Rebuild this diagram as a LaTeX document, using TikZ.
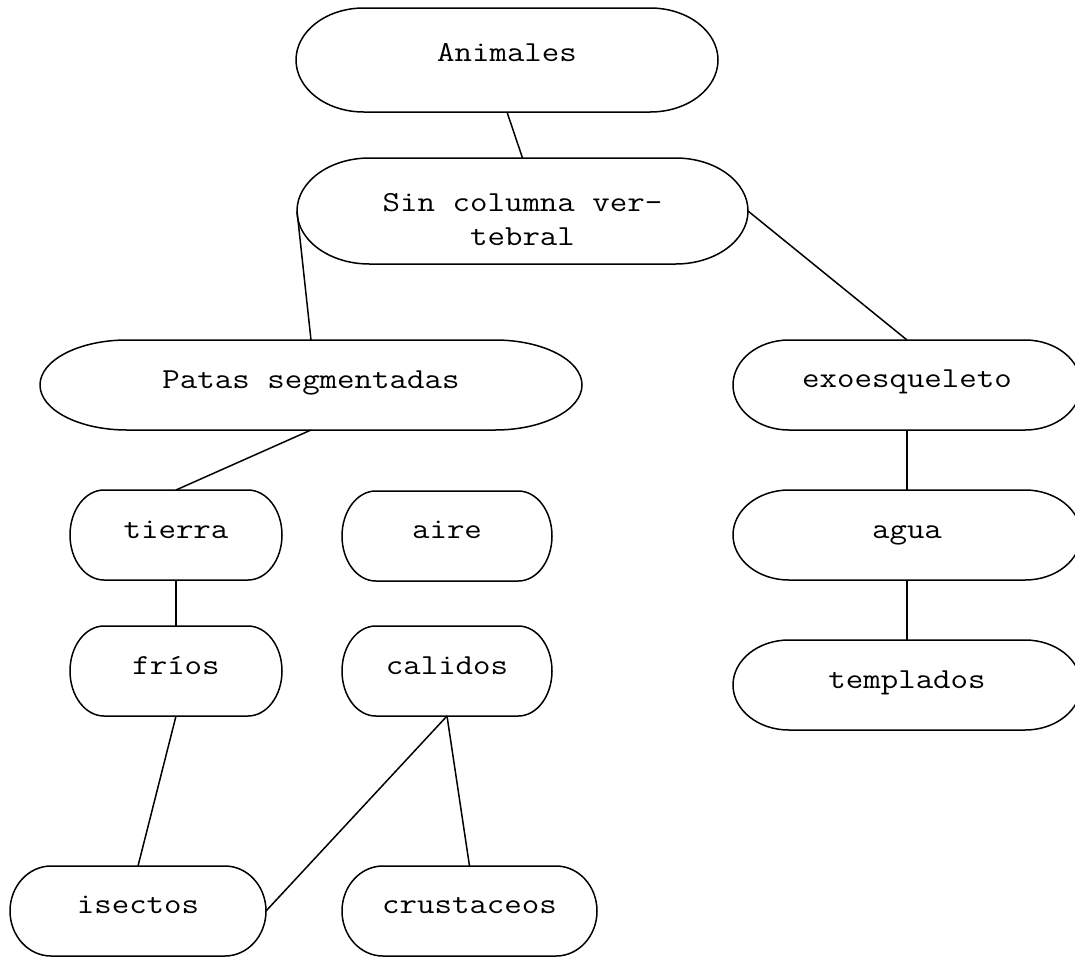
\documentclass[tikz,border=0pt]{standalone}
\usepackage{fontspec}
\usepackage{graphicx}
\usetikzlibrary{calc}

% typewriter face, widened to the box text pitch
\newcommand\diagfont{\ttfamily}
\newcommand\wide[1]{\scalebox{1.17}[1]{#1}}

\tikzset{
  shapebox/.style={rectangle, draw=none, inner sep=0pt, outer sep=0pt},
  shapeline/.style={line width=1.5pt, line join=round},
  link/.style={line width=1.5pt},
  lbl/.style={anchor=base, inner sep=0pt, font=\diagfont\fontsize{29}{34}\selectfont, align=center}
}

% terminator outline: flat top and bottom, elliptic ends
\newcommand\termshape[1]{%
  \draw[shapeline] let \p1=(#1.north west), \p2=(#1.south east),
      \n1={0.1606*(\x2-\x1)}, \n2={(\y1-\y2)/2} in
    ([xshift=\n1]#1.north west) -- ([xshift=-\n1]#1.north east)
    arc[start angle=90, end angle=-90, x radius=\n1, y radius=\n2]
    -- ([xshift=\n1]#1.south west)
    arc[start angle=270, end angle=90, x radius=\n1, y radius=\n2] -- cycle;}

\begin{document}
\begin{tikzpicture}[x=1pt, y=-1pt]
\useasboundingbox (0,0) rectangle (1075,956);

% boxes
\node[shapebox, minimum width=422pt, minimum height=104pt] (ani) at (507,60) {};
\node[shapebox, minimum width=451pt, minimum height=106pt] (sin) at (522.5,211) {};
\node[shapebox, minimum width=542pt, minimum height=90pt] (pat) at (311,385) {};
\node[shapebox, minimum width=348pt, minimum height=90pt] (exo) at (907,385) {};
\node[shapebox, minimum width=212pt, minimum height=90pt] (tie) at (176,535) {};
\node[shapebox, minimum width=210pt, minimum height=90pt] (air) at (447,536) {};
\node[shapebox, minimum width=348pt, minimum height=90pt] (agu) at (907,535) {};
\node[shapebox, minimum width=212pt, minimum height=90pt] (fri) at (176,671) {};
\node[shapebox, minimum width=210pt, minimum height=90pt] (cal) at (447,671) {};
\node[shapebox, minimum width=348pt, minimum height=90pt] (tem) at (907,685) {};
\node[shapebox, minimum width=256pt, minimum height=90pt] (ise) at (138,911) {};
\node[shapebox, minimum width=255pt, minimum height=90pt] (cru) at (469.5,911) {};

\foreach \k in {ani,sin,pat,exo,tie,air,agu,fri,cal,tem,ise,cru} {\termshape{\k}}

% labels (base anchor sits on the last line)
\node[lbl] (ani-t) at ([yshift=-1pt]ani.center) {\wide{Animales}};
\node[lbl] (sin-t) at ([yshift=-34pt]sin.center) {\wide{Sin columna ver-}\\\wide{tebral}};
\node[lbl] (pat-t) at ([yshift=-3pt]pat.center) {\wide{Patas segmentadas}};
\node[lbl] (exo-t) at ([yshift=-2pt]exo.center) {\wide{exoesqueleto}};
\node[lbl] (tie-t) at ([yshift=-3pt]tie.center) {\wide{tierra}};
\node[lbl] (air-t) at ([yshift=-2pt]air.center) {\wide{aire}};
\node[lbl] (agu-t) at ([yshift=-3pt]agu.center) {\wide{agua}};
\node[lbl] (fri-t) at ([yshift=-3pt]fri.center) {\wide{fríos}};
\node[lbl] (cal-t) at ([yshift=-3pt]cal.center) {\wide{calidos}};
\node[lbl] (tem-t) at ([yshift=-3pt]tem.center) {\wide{templados}};
\node[lbl] (ise-t) at ([yshift=-2pt]ise.center) {\wide{isectos}};
\node[lbl] (cru-t) at ([yshift=-2pt]cru.center) {\wide{crustaceos}};

% connectors
\draw[link] (ani.south) -- (sin.north);
\draw[link] (sin.west) -- (pat.north);
\draw[link] (sin.east) -- (exo.north);
\draw[link] (pat.south) -- (tie.north);
\draw[link] (tie.south) -- (fri.north);
\draw[link] (fri.south) -- (ise.north);
\draw[link] (cal.south) -- (ise.east);
\draw[link] (cal.south) -- (cru.north);
\draw[link] (exo.south) -- (agu.north);
\draw[link] (agu.south) -- (tem.north);
\end{tikzpicture}
\end{document}
